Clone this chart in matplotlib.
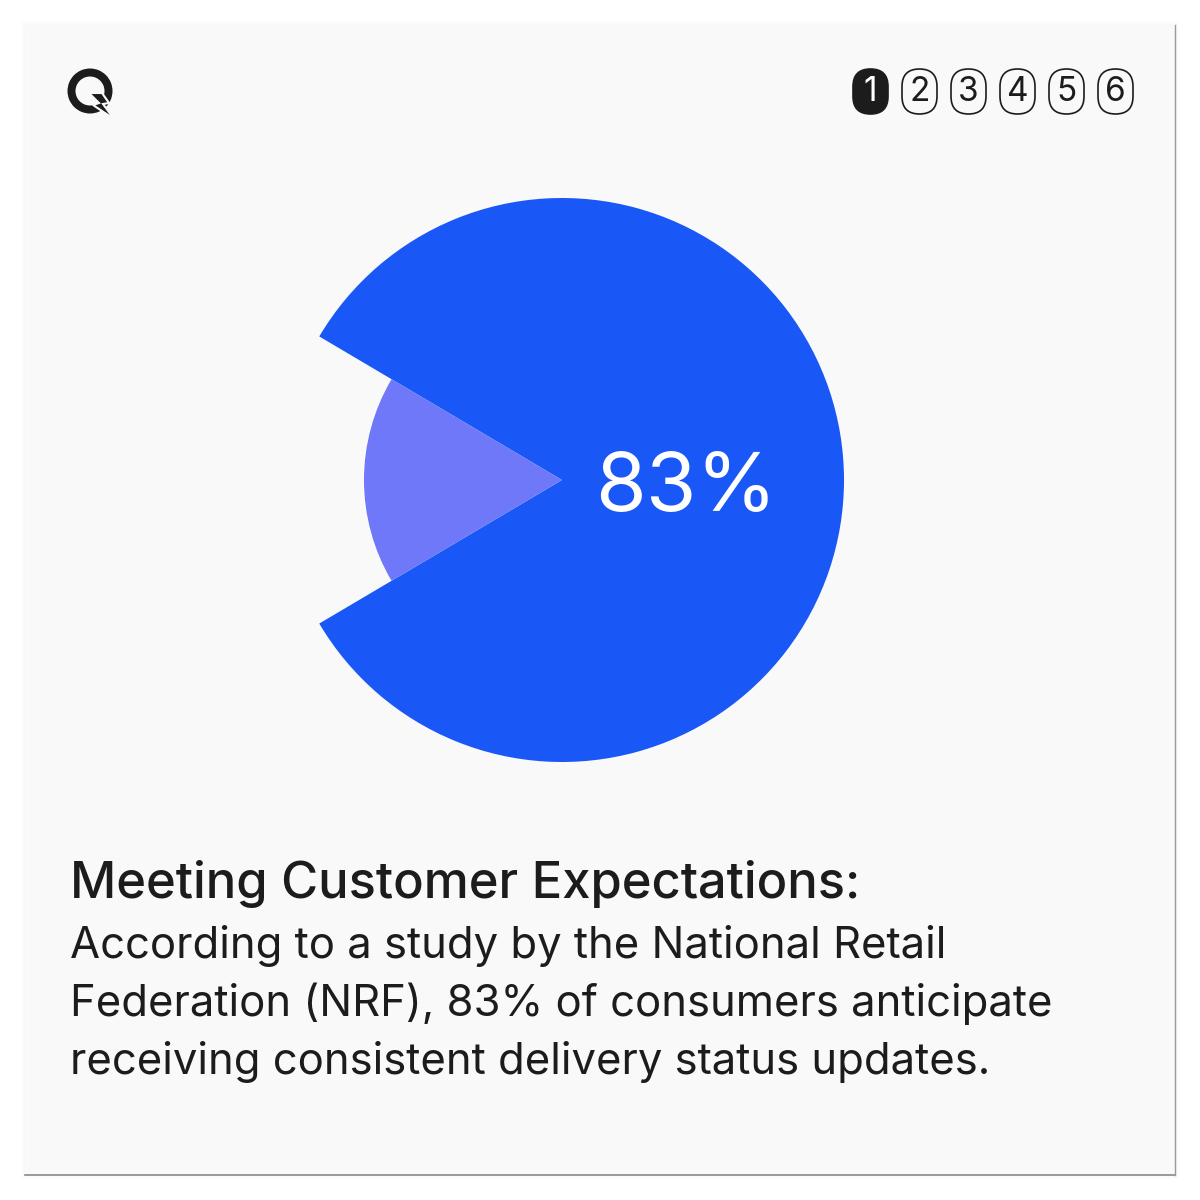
import matplotlib
matplotlib.use('Agg')
import matplotlib.pyplot as plt
from matplotlib.patches import FancyBboxPatch, Rectangle, Wedge, Polygon

# data
share = [83, 17]
big_label = '83%'
pages = ['1', '2', '3', '4', '5', '6']
title = 'Meeting Customer Expectations:'
body = ['According to a study by the National Retail',
        'Federation (NRF), 83% of consumers anticipate',
        'receiving consistent delivery status updates.']

blue = '#1957f6'
lilac = '#6e78f8'
ink = '#1c1c1c'
card = '#f9f9f9'

plt.rcParams['font.family'] = ['Inter', 'DejaVu Sans']

fig = plt.figure(figsize=(12, 12), dpi=100)
fig.patch.set_facecolor('white')
ax = fig.add_axes([0, 0, 1, 1])

# card with soft shadow
for i in range(4):
    ax.add_patch(Rectangle((25 - 4 + i, 25 - 4 + i), 1150 + 8 - 2 * i, 1150 + 8 - 2 * i,
                           facecolor='#000000', alpha=0.008, edgecolor='none', zorder=0))
ax.add_patch(Rectangle((25, 25), 1150, 1150, facecolor=card, edgecolor='none', zorder=1))
ax.plot([25, 1175], [1175, 1175], color='#8a8a8a', lw=1.2, zorder=2)
ax.plot([1175, 1175], [25, 1175], color='#9a9a9a', lw=1.0, zorder=2)

# pie: outer wedge for 83%, inner lilac wedge for 17%
start = 180 + share[1] / sum(share) * 360 / 2
w1, _ = ax.pie(share, radius=282, center=(562, 480), startangle=start,
               colors=[blue, 'none'], wedgeprops=dict(linewidth=0), frame=True)
w2, _ = ax.pie(share, radius=198, center=(562, 480), startangle=start,
               colors=['none', lilac], wedgeprops=dict(linewidth=0), frame=True)
for w in w1 + w2:
    w.set_zorder(3)
ax.text(686, 511, big_label, color='white', fontsize=59, ha='center', va='baseline', zorder=4)

# logo
ax.add_patch(Wedge((90, 91), 22.5, 0, 360, width=8, facecolor=ink, edgecolor='none', zorder=3))
ax.add_patch(Polygon([(89, 93), (102, 93), (109, 103), (103, 104), (114, 119),
                      (93, 105), (99, 103)], closed=True, facecolor=ink,
                     edgecolor=card, lw=1.5, zorder=4))

# page pills
for i, p in enumerate(pages):
    x0 = 853 + i * 49
    filled = i == 0
    ax.add_patch(FancyBboxPatch((x0, 69), 35, 45,
                                boxstyle='round,pad=0,rounding_size=17.5',
                                facecolor=ink if filled else 'none',
                                edgecolor=ink, lw=1.2, zorder=3))
    ax.text(x0 + 17.5, 92, p, color='white' if filled else ink, fontsize=24,
            ha='center', va='center', zorder=4)

# text
ax.text(70, 898, title, color=ink, fontsize=36.5, fontweight='medium',
        ha='left', va='baseline', zorder=4)
for k, line in enumerate(body):
    ax.text(70, 958 + k * 58, line, color=ink, fontsize=31.4,
            ha='left', va='baseline', zorder=4)

ax.set_xlim(0, 1200)
ax.set_ylim(1200, 0)
ax.set_aspect('equal')
ax.axis('off')

fig.savefig('out.png', dpi=100, facecolor='white')
